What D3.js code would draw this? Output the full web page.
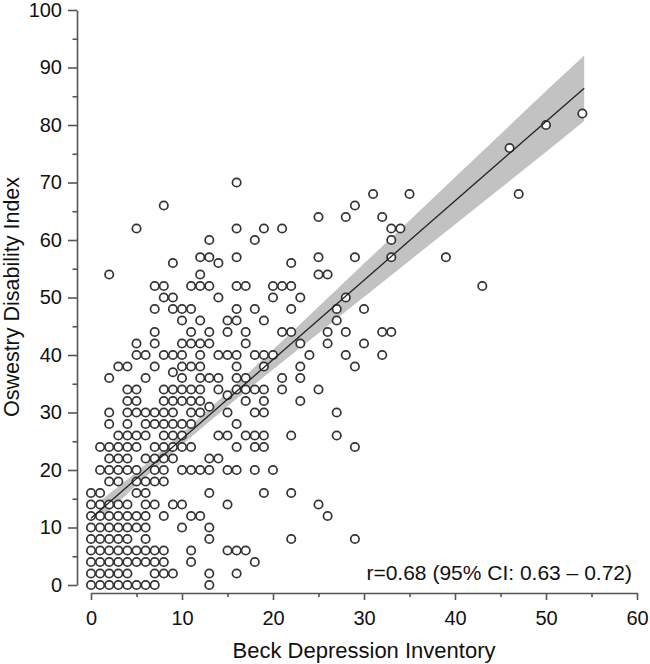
<!DOCTYPE html>
<html><head><meta charset="utf-8">
<script src="https://cdn.jsdelivr.net/npm/d3@7"></script>
<style>body{margin:0;background:#fff}</style>
</head><body>
<svg id="c" width="650" height="664"></svg>
<script>
// ODI level (y) -> list of BDI values (x) observed at that level
const odiLevels = [0,2,4,6,8,10,12,14,16,18,20,22,24,26,28,30,31,32,33,34,36,37,38,40,42,44,46,48,50,52,54,56,57,60,62,64,66,68,70,76,80,82];
const bdiAtLevel = [
  [0,1,2,3,4,5,6,7,13],
  [0,1,2,3,4,7,8,9,13,16],
  [0,1,2,3,4,5,6,7,8,11,18],
  [0,1,2,3,4,5,6,7,8,11,15,16,17],
  [0,1,2,3,4,6,13,22,29],
  [0,1,2,3,4,5,6,10,13],
  [0,1,2,3,4,5,6,8,11,12,26],
  [0,1,2,3,4,6,7,9,10,15,25],
  [0,1,5,6,13,19,22],
  [2,3,5,6,7,8],
  [1,2,3,4,5,7,8,10,11,12,13,15,16,18,20],
  [2,3,4,6,7,8,9,13,14],
  [1,2,3,4,5,7,8,9,10,11,16,18,19,29],
  [3,4,5,6,8,9,10,14,15,17,18,19,22,27],
  [2,4,6,7,8,9,10,11,16],
  [2,4,5,6,7,8,9,11,12,15,18,19,27],
  [13],
  [4,5,8,9,10,11,12,17,19,23],
  [15],
  [4,5,8,9,10,11,12,14,16,17,18,19,21,25],
  [2,6,10,12,13,14,16,17,21,23],
  [9],
  [3,4,7,10,11,12,16,19,23,29],
  [5,6,8,9,10,12,14,15,16,18,19,20,24,28,32],
  [5,7,10,11,12,13,17,23,26,30],
  [7,11,13,15,17,21,22,26,28,32,33],
  [10,12,15,16,19,27],
  [7,9,10,11,16,18,22,27,30],
  [8,9,14,20,23,28],
  [7,8,11,12,13,16,17,20,21,22,43],
  [2,12,25,26],
  [9,14,22],
  [12,13,16,25,29,33,39],
  [13,18,33],
  [5,16,19,21,33,34],
  [25,28,32],
  [8,29],
  [31,35,47],
  [16],
  [46],
  [50],
  [54]
];
const xTicks = [0,10,20,30,40,50,60];
const xMinor = [5,15,25,35,45,55];
const yTicks = [0,10,20,30,40,50,60,70,80,90,100];
const yMinor = [5,15,25,35,45,55,65,75,85,95];
const fitX = [0, 54.2];
const fitY = [11.6, 86.4];
const bandX  = [1.0, 5, 10, 15, 20, 25, 30, 35, 40, 45, 50, 54.2];
const bandLo = [11.3, 17.4, 24.4, 31.1, 37.5, 43.8, 50.1, 56.4, 62.7, 69.0, 75.3, 80.7];
const bandHi = [14.6, 19.6, 26.4, 33.5, 40.9, 48.4, 55.9, 63.4, 70.9, 78.4, 85.9, 92.1];
const xTitle = "Beck Depression Inventory";
const yTitle = "Oswestry Disability Index";
const note = "r=0.68 (95% CI: 0.63 – 0.72)";

const FONT = "'Liberation Sans', Arial, sans-serif";
const svg = d3.select("#c");
const x = d3.scaleLinear().domain([0,60]).range([91,637]);
const y = d3.scaleLinear().domain([0,100]).range([585,10]);

// CI band
const band = bandX.map((v,i)=>({x:v, lo:bandLo[i], hi:bandHi[i]}));
svg.append("path").datum(band)
  .attr("d", d3.area().x(d=>x(d.x)).y0(d=>y(d.lo)).y1(d=>y(d.hi)))
  .attr("fill","#c2c2c2");

// points
const pts = [];
odiLevels.forEach((lv,i)=> bdiAtLevel[i].forEach(b=>pts.push({x:b,y:lv})));
svg.append("g").selectAll("circle").data(pts).join("circle")
  .attr("cx",d=>x(d.x)).attr("cy",d=>y(d.y)).attr("r",4.2)
  .attr("fill","#fff").attr("stroke","#333").attr("stroke-width",1.7);

// fit line
svg.append("path").datum(fitX.map((v,i)=>({x:v,y:fitY[i]})))
  .attr("d", d3.line().x(d=>x(d.x)).y(d=>y(d.y)))
  .attr("fill","none").attr("stroke","#222").attr("stroke-width",1.3);

// axes
function styleAxis(g){
  g.select(".domain").attr("stroke","#555").attr("stroke-width",1.6);
  g.selectAll(".tick line").attr("stroke","#555").attr("stroke-width",1.6);
  g.selectAll(".tick text").attr("fill","#111").style("font-family",FONT).style("font-size","20px");
}
const gy = svg.append("g").attr("transform","translate(77,0)")
  .call(d3.axisLeft(y).tickValues(yTicks).tickSize(9).tickSizeOuter(0).tickPadding(6).tickFormat(d3.format("d")));
styleAxis(gy);
const gy2 = svg.append("g").attr("transform","translate(77,0)")
  .call(d3.axisLeft(y).tickValues(yMinor).tickSize(4.5).tickFormat(""));
gy2.select(".domain").remove(); styleAxis(gy2);

const gx = svg.append("g").attr("transform","translate(0,593)")
  .call(d3.axisBottom(x).tickValues(xTicks).tickSize(7).tickSizeOuter(0).tickPadding(11).tickFormat(d3.format("d")));
styleAxis(gx);
const gx2 = svg.append("g").attr("transform","translate(0,593)")
  .call(d3.axisBottom(x).tickValues(xMinor).tickSize(4).tickFormat(""));
gx2.select(".domain").remove(); styleAxis(gx2);

// titles
svg.append("text").attr("x",364).attr("y",658).attr("text-anchor","middle")
  .style("font-family",FONT).style("font-size","22px").attr("fill","#111").text(xTitle);
svg.append("text").attr("transform","translate(19,297) rotate(-90)").attr("text-anchor","middle")
  .style("font-family",FONT).style("font-size","21.5px").attr("fill","#111").text(yTitle);
svg.append("text").attr("x",632).attr("y",580).attr("text-anchor","end")
  .style("font-family",FONT).style("font-size","21px").attr("fill","#111").text(note);
</script>
</body></html>
